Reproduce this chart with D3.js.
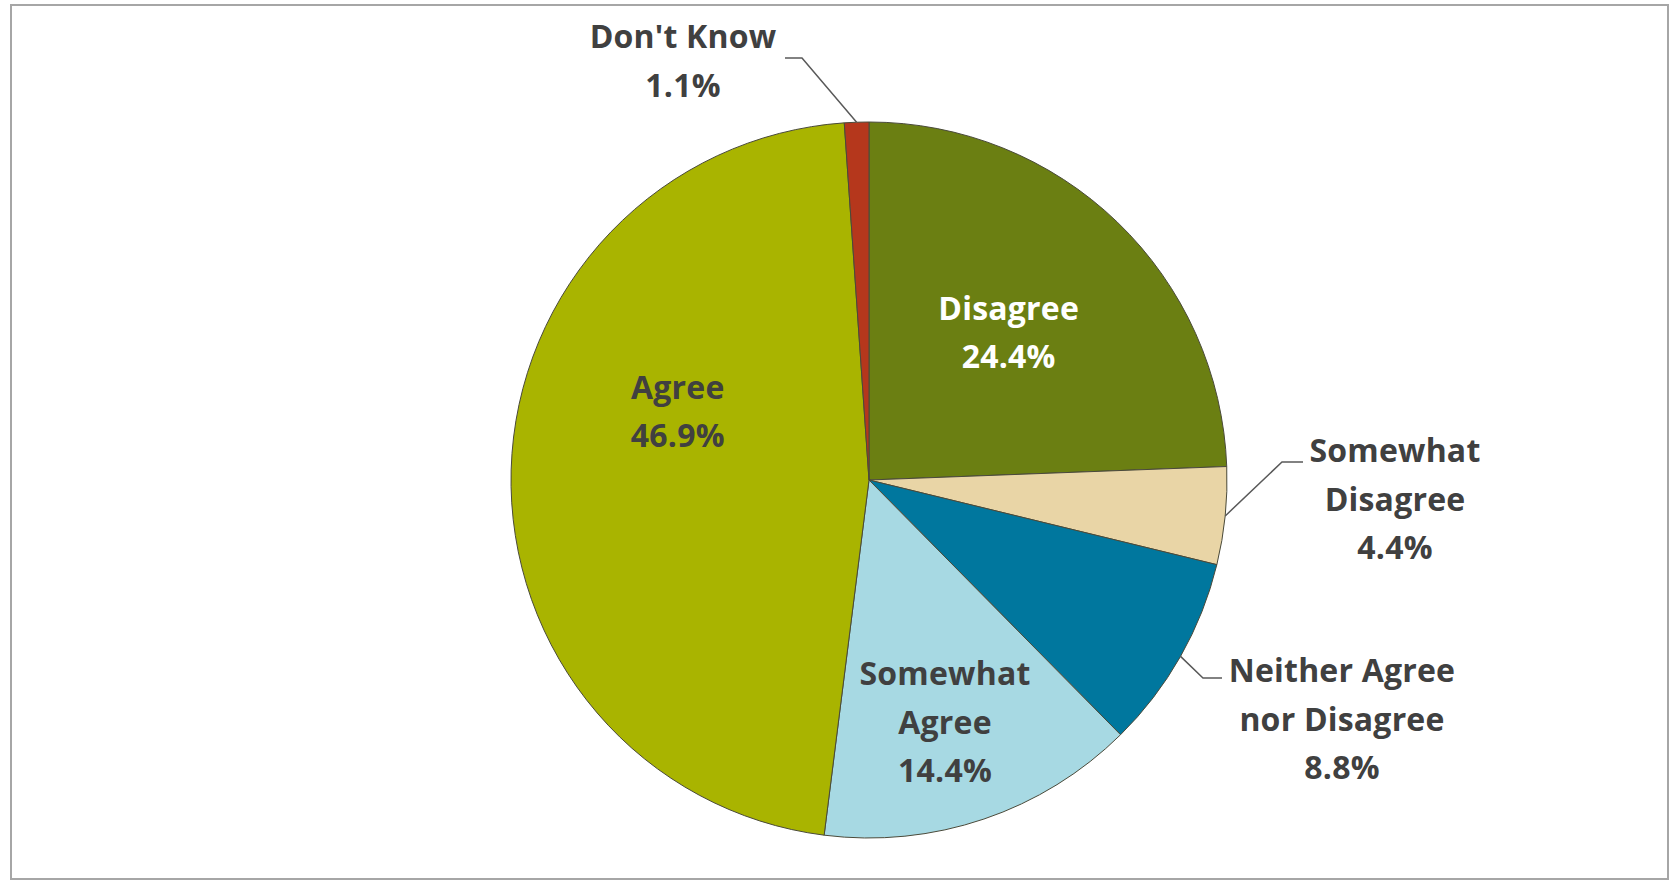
<!DOCTYPE html>
<html>
<head>
<meta charset="utf-8">
<script src="https://cdn.jsdelivr.net/npm/d3@7"></script>
<style>
  html, body { margin: 0; padding: 0; background: #fff; }
  svg { display: block; }
</style>
</head>
<body>
<svg id="chart" width="1676" height="882"></svg>
<script>
// Survey response shares, clockwise from 12 o'clock
const categories = ["Disagree", "Somewhat Disagree", "Neither Agree nor Disagree", "Somewhat Agree", "Agree", "Don't Know"];
const values = [24.4, 4.4, 8.8, 14.4, 46.9, 1.1];
const labelLines = [
  ["Disagree"],
  ["Somewhat", "Disagree"],
  ["Neither Agree", "nor Disagree"],
  ["Somewhat", "Agree"],
  ["Agree"],
  ["Don't Know"]
];
const colors = ["#6b7f12", "#e9d5a6", "#00779e", "#a7d9e3", "#a9b400", "#b5371c"];

// Label placement: inside labels sit at a polar point (angle in degrees, radius as fraction of r);
// outside labels get a leader line from the rim, an elbow and a short horizontal run.
const labelLayout = [
  { inside: true, a: 43.5, rf: 0.567, fill: "#ffffff" },
  { inside: false, elbow: [1282, 462], end: [1303, 462], text: [1395, 462] },
  { inside: false, elbow: [1203, 678], end: [1222, 678], text: [1342, 682] },
  { inside: true, a: 162.6, rf: 0.71, fill: "#404040" },
  { inside: true, a: 289.6, rf: 0.567, fill: "#404040" },
  { inside: false, elbow: [802, 58], end: [785, 58], text: [683, 48] }
];

const svg = d3.select("#chart");
const cx = 869, cy = 480, R = 358;
const lineH = 48.5;
const fontSize = 32;

// Outer frame
svg.append("rect")
  .attr("x", 11).attr("y", 5)
  .attr("width", 1657).attr("height", 874)
  .attr("fill", "#fff")
  .attr("stroke", "#a6a6a6")
  .attr("stroke-width", 2);

const pie = d3.pie().sort(null).value(d => d)(values);
const arc = d3.arc().innerRadius(0).outerRadius(R);

const g = svg.append("g").attr("transform", `translate(${cx},${cy})`);

g.selectAll("path.slice")
  .data(pie)
  .join("path")
  .attr("class", "slice")
  .attr("d", arc)
  .attr("fill", (d, i) => colors[i])
  .attr("stroke", "#4a4a3a")
  .attr("stroke-width", 1);

const fmt = v => d3.format(".1f")(v) + "%";
const font = "'Open Sans', Lato, sans-serif";

pie.forEach((d, i) => {
  const L = labelLayout[i];
  const lines = labelLines[i].concat([fmt(values[i])]);
  let tx, ty, fill;
  if (L.inside) {
    const a = L.a * Math.PI / 180;
    const rr = L.rf * R;
    tx = cx + rr * Math.sin(a);
    // vertical centre of text block -> first baseline
    const blockCenter = cy - rr * Math.cos(a);
    ty = blockCenter - (lines.length - 1) * lineH / 2 + 11;
    fill = L.fill;
  } else {
    const mid = (d.startAngle + d.endAngle) / 2;
    const px = cx + R * Math.sin(mid), py = cy - R * Math.cos(mid);
    svg.append("polyline")
      .attr("points", [[px, py], L.elbow, L.end].map(p => p.join(",")).join(" "))
      .attr("fill", "none")
      .attr("stroke", "#595959")
      .attr("stroke-width", 1.5);
    tx = L.text[0];
    ty = L.text[1];
    fill = "#404040";
  }
  const t = svg.append("text")
    .attr("x", tx).attr("y", ty)
    .attr("text-anchor", "middle")
    .attr("font-family", font)
    .attr("font-weight", "bold")
    .attr("font-size", fontSize)
    .attr("letter-spacing", 0.2)
    .attr("fill", fill);
  lines.forEach((s, k) => {
    t.append("tspan").attr("x", tx).attr("y", ty + k * lineH).text(s);
  });
});
</script>
</body>
</html>
